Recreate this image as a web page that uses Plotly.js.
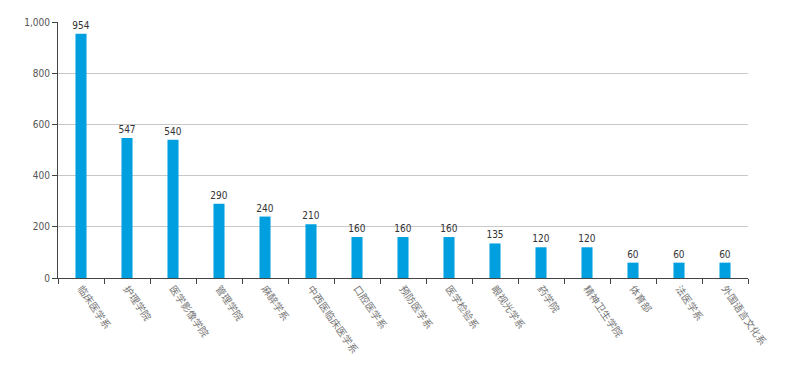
<!DOCTYPE html>
<html>
<head>
<meta charset="utf-8">
<script src="https://cdn.plot.ly/plotly-3.0.1.min.js"></script>
<style>html,body{margin:0;padding:0;background:#fff;}#chart{width:800px;height:381px;}</style>
</head>
<body>
<div id="chart"></div>
<script>
var categories = ["临床医学系","护理学院","医学影像学院","管理学院","麻醉学系","中西医临床医学系","口腔医学系","预防医学系","医学检验系","眼视光学系","药学院","精神卫生学院","体育部","法医学系","外国语言文化系"];
var values = [954,547,540,290,240,210,160,160,160,135,120,120,60,60,60];

var numFont = "Liberation Sans Narrow, DejaVu Sans Condensed, sans-serif";

var trace = {
  type: "bar",
  x: categories,
  y: values,
  text: values.map(String),
  textposition: "outside",
  constraintext: "none",
  cliponaxis: false,
  textfont: {family: numFont, size: 10, color: "#333"},
  marker: {color: "#009fdf"},
  hoverinfo: "x+y"
};

var layout = {
  width: 800, height: 381,
  margin: {l: 58, r: 52, t: 22, b: 103},
  paper_bgcolor: "#fff", plot_bgcolor: "#fff",
  bargap: 0.76,
  showlegend: false,
  font: {family: numFont, size: 10, color: "#555"},
  xaxis: {
    type: "category",
    tickson: "boundaries",
    ticks: "outside", ticklen: 5, tickcolor: "#444",
    showline: true, linecolor: "#444", linewidth: 1,
    showgrid: false,
    tickangle: 55,
    tickfont: {family: "Noto Sans CJK SC, sans-serif", size: 10, color: "#777"}
  },
  yaxis: {
    range: [0, 1000],
    tickvals: [0,200,400,600,800,1000],
    ticktext: ["0","200","400","600","800","1,000"],
    ticks: "outside", ticklen: 5, tickcolor: "#444",
    showline: true, linecolor: "#444", linewidth: 1,
    showgrid: true, gridcolor: "#c8c8c8",
    zeroline: false,
    tickfont: {family: numFont, size: 10, color: "#555"}
  }
};

Plotly.newPlot("chart", [trace], layout, {displayModeBar: false, staticPlot: true});
</script>
</body>
</html>
